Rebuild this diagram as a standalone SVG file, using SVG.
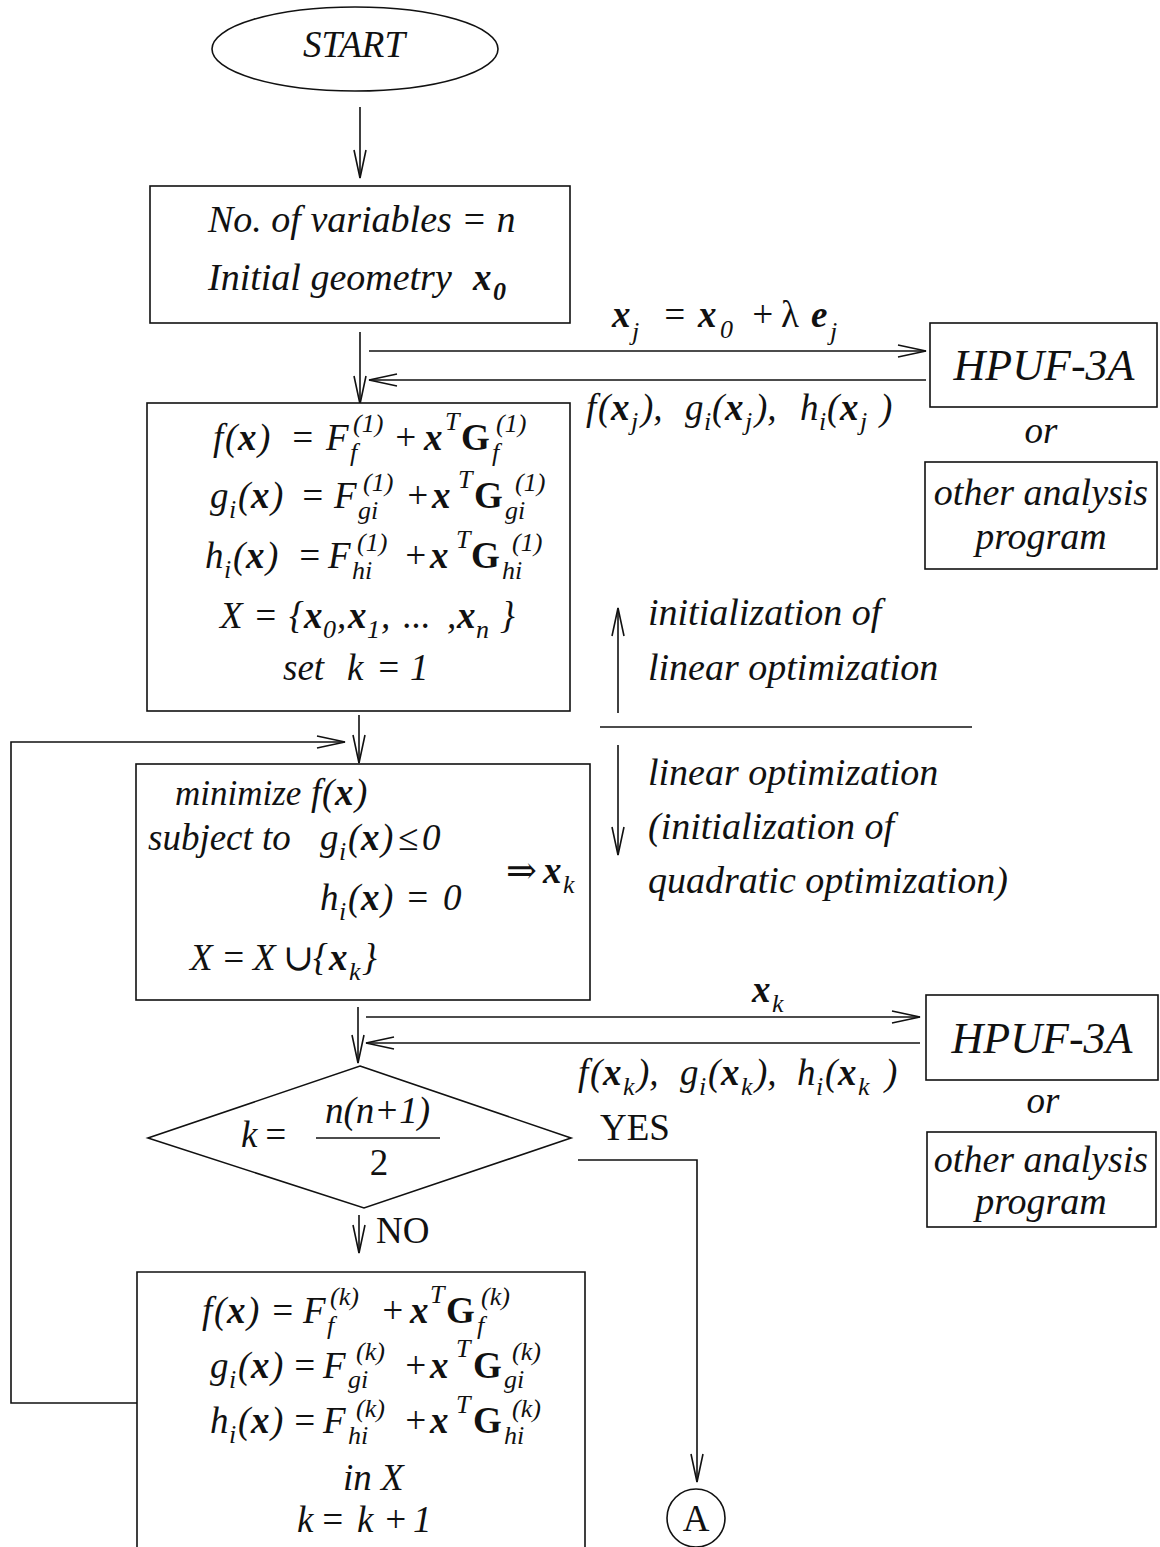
<svg xmlns="http://www.w3.org/2000/svg" width="1160" height="1547" viewBox="0 0 1160 1547">
<defs>
<style>
.t{font-family:"Liberation Serif","DejaVu Serif",serif;font-style:italic;font-size:37px;fill:#111}
.s{font-size:26px}
.b{font-weight:bold}
.G{font-weight:bold;font-style:normal}
.u{font-style:normal}
.ln{stroke:#111;stroke-width:1.6;fill:none}
.bx{fill:#fff;stroke:#111;stroke-width:1.6}
.mid{text-anchor:middle}
</style>
<marker id="ah" markerUnits="userSpaceOnUse" markerWidth="32" markerHeight="16" viewBox="0 0 32 16" refX="30" refY="8" orient="auto">
<path d="M2,2 L30,8 L2,14" fill="none" stroke="#111" stroke-width="1.6"/>
</marker>
</defs>
<rect width="1160" height="1547" fill="#fff"/>

<g id="connectors">
<path class="ln" d="M360,107 L360,178" marker-end="url(#ah)"/>
<path class="ln" d="M360,332 L360,404" marker-end="url(#ah)"/>
<path class="ln" d="M369,351 L926,351" marker-end="url(#ah)"/>
<path class="ln" d="M926,380 L369,380" marker-end="url(#ah)"/>
<path class="ln" d="M359,715 L359,763" marker-end="url(#ah)"/>
<path class="ln" d="M137,1403 L11,1403 L11,742 L345,742" marker-end="url(#ah)"/>
<path class="ln" d="M618,713 L618,608" marker-end="url(#ah)"/>
<path class="ln" d="M618,745 L618,855" marker-end="url(#ah)"/>
<path class="ln" d="M600,727 L972,727"/>
<path class="ln" d="M358,1007 L358,1063" marker-end="url(#ah)"/>
<path class="ln" d="M366,1017 L920,1017" marker-end="url(#ah)"/>
<path class="ln" d="M920,1043 L366,1043" marker-end="url(#ah)"/>
<path class="ln" d="M359,1215 L359,1253" marker-end="url(#ah)"/>
<path class="ln" d="M578,1160 L697,1160 L697,1482" marker-end="url(#ah)"/>
</g>

<g id="start">
<ellipse class="bx" cx="355" cy="49" rx="143" ry="42"/>
<text class="t mid" x="354" y="57">START</text>
</g>

<g id="init">
<rect class="bx" x="150" y="186" width="420" height="137"/>
<text class="t" x="208" y="232" style="font-size:38px">No. of variables = n</text>
<text class="t"><tspan x="208" y="290" style="font-size:38px">Initial geometry</tspan><tspan class="b" x="473" y="290">x</tspan><tspan class="s b" x="493" y="300">0</tspan></text>
</g>

<g id="linearize1">
<rect class="bx" x="147" y="403" width="423" height="308"/>
<text class="t"><tspan x="213" y="450">f</tspan><tspan x="225" y="450">(</tspan><tspan class="b" x="238" y="450">x</tspan><tspan x="258" y="450">)</tspan><tspan x="290" y="450">=</tspan><tspan x="326" y="450">F</tspan><tspan class="s" x="350" y="461">f</tspan><tspan class="s" x="353" y="432">(1)</tspan><tspan x="393" y="450">+</tspan><tspan class="b" x="424" y="450">x</tspan><tspan class="s" x="445" y="430">T</tspan><tspan class="G" x="461" y="450">G</tspan><tspan class="s" x="492" y="461">f</tspan><tspan class="s" x="496" y="432">(1)</tspan></text>
<text class="t"><tspan x="210" y="508">g</tspan><tspan class="s" x="229" y="518">i</tspan><tspan x="238" y="508">(</tspan><tspan class="b" x="251" y="508">x</tspan><tspan x="271" y="508">)</tspan><tspan x="300" y="508">=</tspan><tspan x="334" y="508">F</tspan><tspan class="s" x="358" y="519">gi</tspan><tspan class="s" x="363" y="491">(1)</tspan><tspan x="405" y="508">+</tspan><tspan class="b" x="432" y="508">x</tspan><tspan class="s" x="458" y="488">T</tspan><tspan class="G" x="474" y="508">G</tspan><tspan class="s" x="505" y="519">gi</tspan><tspan class="s" x="515" y="491">(1)</tspan></text>
<text class="t"><tspan x="205" y="568">h</tspan><tspan class="s" x="224" y="578">i</tspan><tspan x="233" y="568">(</tspan><tspan class="b" x="246" y="568">x</tspan><tspan x="266" y="568">)</tspan><tspan x="297" y="568">=</tspan><tspan x="328" y="568">F</tspan><tspan class="s" x="352" y="579">hi</tspan><tspan class="s" x="357" y="551">(1)</tspan><tspan x="403" y="568">+</tspan><tspan class="b" x="430" y="568">x</tspan><tspan class="s" x="456" y="548">T</tspan><tspan class="G" x="471" y="568">G</tspan><tspan class="s" x="502" y="579">hi</tspan><tspan class="s" x="512" y="551">(1)</tspan></text>
<text class="t"><tspan x="220" y="628">X</tspan><tspan x="253" y="628">=</tspan><tspan x="289" y="628">{</tspan><tspan class="b" x="304" y="628">x</tspan><tspan class="s" x="323" y="638">0</tspan><tspan x="337" y="628">,</tspan><tspan class="b" x="348" y="628">x</tspan><tspan class="s" x="367" y="638">1</tspan><tspan x="381" y="628">,</tspan><tspan x="403" y="628">...</tspan><tspan x="447" y="628">,</tspan><tspan class="b" x="457" y="628">x</tspan><tspan class="s" x="476" y="638">n</tspan><tspan x="500" y="628">}</tspan></text>
<text class="t"><tspan x="283" y="680">set</tspan><tspan x="347" y="680">k</tspan><tspan x="376" y="680">=</tspan><tspan x="410" y="680">1</tspan></text>
</g>

<g id="analysis1">
<rect class="bx" x="930" y="323" width="227" height="84"/>
<text class="t mid" x="1044" y="380" style="font-size:44px">HPUF-3A</text>
<text class="t mid" x="1041" y="443">or</text>
<rect class="bx" x="925" y="462" width="232" height="107"/>
<text class="t mid" x="1041" y="505" style="font-size:38px">other analysis</text>
<text class="t mid" x="1041" y="549" style="font-size:38px">program</text>
</g>

<g id="label-xj">
<text class="t"><tspan class="b" x="612" y="327">x</tspan><tspan class="s" x="632" y="340">j</tspan><tspan x="662" y="327">=</tspan><tspan class="b" x="698" y="327">x</tspan><tspan class="s" x="720" y="338">0</tspan><tspan x="750" y="327">+</tspan><tspan class="u" x="781" y="327">λ</tspan><tspan class="b" x="811" y="327">e</tspan><tspan class="s" x="830" y="340">j</tspan></text>
<text class="t"><tspan x="586" y="420">f</tspan><tspan x="598" y="420">(</tspan><tspan class="b" x="611" y="420">x</tspan><tspan class="s" x="631" y="430">j</tspan><tspan x="641" y="420">),</tspan><tspan x="685" y="420">g</tspan><tspan class="s" x="704" y="430">i</tspan><tspan x="712" y="420">(</tspan><tspan class="b" x="725" y="420">x</tspan><tspan class="s" x="745" y="430">j</tspan><tspan x="755" y="420">),</tspan><tspan x="800" y="420">h</tspan><tspan class="s" x="819" y="430">i</tspan><tspan x="827" y="420">(</tspan><tspan class="b" x="840" y="420">x</tspan><tspan class="s" x="860" y="430">j</tspan><tspan x="880" y="420">)</tspan></text>
</g>

<g id="phase-labels">
<text class="t" x="648" y="625" style="font-size:38px">initialization of</text>
<text class="t" x="648" y="680" style="font-size:38px">linear optimization</text>
<text class="t" x="648" y="785" style="font-size:38px">linear optimization</text>
<text class="t" x="648" y="839" style="font-size:38px">(initialization of</text>
<text class="t" x="648" y="893" style="font-size:38px">quadratic optimization)</text>
</g>

<g id="lp">
<rect class="bx" x="136" y="764" width="454" height="236"/>
<text class="t"><tspan x="175" y="805" style="font-size:35px">minimize</tspan><tspan x="311" y="805">f</tspan><tspan x="322" y="805">(</tspan><tspan class="b" x="335" y="805">x</tspan><tspan x="355" y="805">)</tspan></text>
<text class="t"><tspan x="148" y="850">subject to</tspan><tspan x="320" y="850">g</tspan><tspan class="s" x="339" y="860">i</tspan><tspan x="348" y="850">(</tspan><tspan class="b" x="361" y="850">x</tspan><tspan x="381" y="850">)</tspan><tspan class="u" x="398" y="850">≤</tspan><tspan x="422" y="850">0</tspan></text>
<text class="t"><tspan x="320" y="910">h</tspan><tspan class="s" x="339" y="920">i</tspan><tspan x="348" y="910">(</tspan><tspan class="b" x="361" y="910">x</tspan><tspan x="381" y="910">)</tspan><tspan x="405" y="910">=</tspan><tspan x="443" y="910">0</tspan></text>
<text class="t"><tspan class="u" x="506" y="883">⇒</tspan><tspan class="b" x="543" y="883">x</tspan><tspan class="s" x="563" y="893">k</tspan></text>
<text class="t"><tspan x="190" y="970">X</tspan><tspan x="221" y="970">=</tspan><tspan x="253" y="970">X</tspan><tspan class="u" x="283" y="970">∪</tspan><tspan x="313" y="970">{</tspan><tspan class="b" x="329" y="970">x</tspan><tspan class="s" x="349" y="980">k</tspan><tspan x="362" y="970">}</tspan></text>
</g>

<g id="label-xk">
<text class="t"><tspan class="b" x="752" y="1002">x</tspan><tspan class="s" x="772" y="1012">k</tspan></text>
<text class="t"><tspan x="578" y="1085">f</tspan><tspan x="590" y="1085">(</tspan><tspan class="b" x="603" y="1085">x</tspan><tspan class="s" x="623" y="1095">k</tspan><tspan x="637" y="1085">),</tspan><tspan x="680" y="1085">g</tspan><tspan class="s" x="699" y="1095">i</tspan><tspan x="708" y="1085">(</tspan><tspan class="b" x="721" y="1085">x</tspan><tspan class="s" x="741" y="1095">k</tspan><tspan x="755" y="1085">),</tspan><tspan x="797" y="1085">h</tspan><tspan class="s" x="816" y="1095">i</tspan><tspan x="825" y="1085">(</tspan><tspan class="b" x="838" y="1085">x</tspan><tspan class="s" x="858" y="1095">k</tspan><tspan x="885" y="1085">)</tspan></text>
</g>

<g id="analysis2">
<rect class="bx" x="926" y="995" width="232" height="85"/>
<text class="t mid" x="1042" y="1053" style="font-size:44px">HPUF-3A</text>
<text class="t mid" x="1043" y="1113">or</text>
<rect class="bx" x="927" y="1132" width="229" height="95"/>
<text class="t mid" x="1041" y="1172" style="font-size:38px">other analysis</text>
<text class="t mid" x="1041" y="1214" style="font-size:38px">program</text>
</g>

<g id="decision">
<path class="bx" d="M360,1066 L571,1138 L364,1208 L148,1138 Z"/>
<text class="t"><tspan x="241" y="1147">k</tspan><tspan x="263" y="1147">=</tspan></text>
<path class="ln" d="M316,1138 L440,1138"/>
<text class="t" x="325" y="1123">n(n+1)</text>
<text class="t u mid" x="379" y="1175">2</text>
<text class="t u" x="600" y="1140">YES</text>
<text class="t u" x="376" y="1243">NO</text>
</g>

<g id="update">
<path class="bx" d="M137,1560 L137,1272 L585,1272 L585,1560"/>
<text class="t"><tspan x="202" y="1323">f</tspan><tspan x="214" y="1323">(</tspan><tspan class="b" x="227" y="1323">x</tspan><tspan x="247" y="1323">)</tspan><tspan x="270" y="1323">=</tspan><tspan x="303" y="1323">F</tspan><tspan class="s" x="327" y="1334">f</tspan><tspan class="s" x="330" y="1305">(k)</tspan><tspan x="380" y="1323">+</tspan><tspan class="b" x="410" y="1323">x</tspan><tspan class="s" x="430" y="1303">T</tspan><tspan class="G" x="446" y="1323">G</tspan><tspan class="s" x="477" y="1334">f</tspan><tspan class="s" x="481" y="1305">(k)</tspan></text>
<text class="t"><tspan x="210" y="1378">g</tspan><tspan class="s" x="229" y="1388">i</tspan><tspan x="238" y="1378">(</tspan><tspan class="b" x="251" y="1378">x</tspan><tspan x="271" y="1378">)</tspan><tspan x="292" y="1378">=</tspan><tspan x="323" y="1378">F</tspan><tspan class="s" x="348" y="1388">gi</tspan><tspan class="s" x="356" y="1360">(k)</tspan><tspan x="403" y="1378">+</tspan><tspan class="b" x="430" y="1378">x</tspan><tspan class="s" x="456" y="1357">T</tspan><tspan class="G" x="473" y="1378">G</tspan><tspan class="s" x="504" y="1388">gi</tspan><tspan class="s" x="512" y="1360">(k)</tspan></text>
<text class="t"><tspan x="210" y="1433">h</tspan><tspan class="s" x="229" y="1443">i</tspan><tspan x="238" y="1433">(</tspan><tspan class="b" x="251" y="1433">x</tspan><tspan x="271" y="1433">)</tspan><tspan x="292" y="1433">=</tspan><tspan x="323" y="1433">F</tspan><tspan class="s" x="348" y="1444">hi</tspan><tspan class="s" x="356" y="1417">(k)</tspan><tspan x="403" y="1433">+</tspan><tspan class="b" x="430" y="1433">x</tspan><tspan class="s" x="456" y="1413">T</tspan><tspan class="G" x="473" y="1433">G</tspan><tspan class="s" x="504" y="1444">hi</tspan><tspan class="s" x="512" y="1417">(k)</tspan></text>
<text class="t" x="343" y="1490">in X</text>
<text class="t"><tspan x="297" y="1532">k</tspan><tspan x="320" y="1532">=</tspan><tspan x="357" y="1532">k</tspan><tspan x="383" y="1532">+</tspan><tspan x="413" y="1532">1</tspan></text>
</g>

<g id="connector-A">
<circle class="bx" cx="696" cy="1518" r="29"/>
<text class="t u mid" x="696" y="1531">A</text>
</g>
</svg>
